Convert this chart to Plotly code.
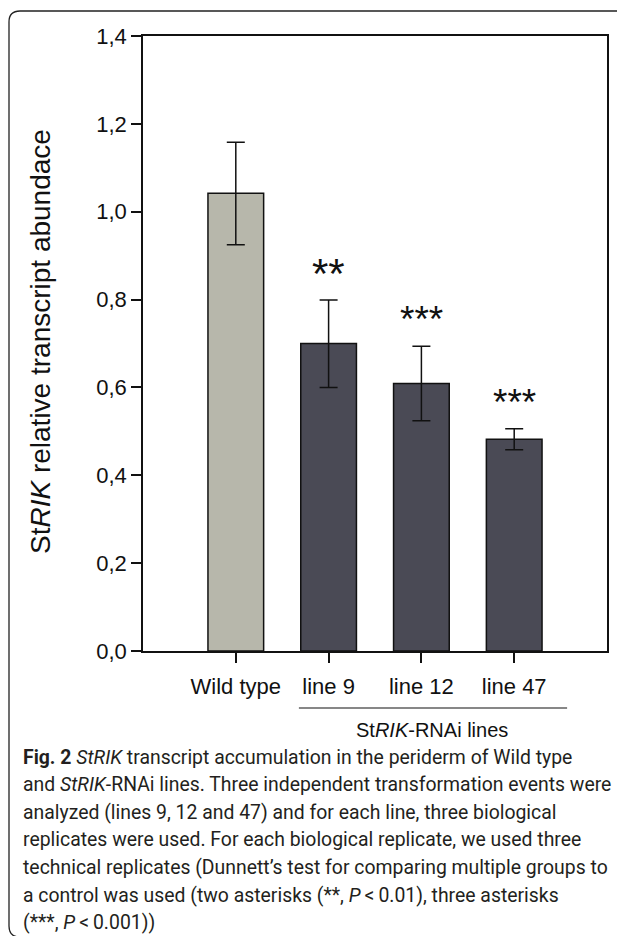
import plotly.graph_objects as go

# ---------------- data ----------------
categories = ["Wild type", "line 9", "line 12", "line 47"]
means = [1.042, 0.700, 0.609, 0.482]
err_plus = [0.116, 0.099, 0.085, 0.024]
err_minus = [0.117, 0.100, 0.085, 0.024]
sig_labels = ["", "**", "***", "***"]
y_tick_vals = [0.0, 0.2, 0.4, 0.6, 0.8, 1.0, 1.2, 1.4]
group_label = "St<i>RIK</i>-RNAi lines"
y_title = "St<i>RIK</i> relative transcript abundace"
caption_lines = [
    "<b>Fig. 2</b> <i>StRIK</i> transcript accumulation in the periderm of Wild type",
    "and <i>StRIK</i>-RNAi lines. Three independent transformation events were",
    "analyzed (lines 9, 12 and 47) and for each line, three biological",
    "replicates were used. For each biological replicate, we used three",
    "technical replicates (Dunnett\u2019s test for comparing multiple groups to",
    "a control was used (two asterisks (**, <i>P</i>\u2009&lt;\u20090.01), three asterisks",
    "(***, <i>P</i>\u2009&lt;\u20090.001))",
]

# ---------------- styles ----------------
PAGE_OFF = 8            # browser default body margin
W, H = 625 - PAGE_OFF, 936 - PAGE_OFF
ML, MR, MT, MB = 143 - PAGE_OFF, 18, 36 - PAGE_OFF, 285
PW, PH = W - ML - MR, H - MT - MB
PLOT_LEFT, PLOT_BOTTOM = 143, 651   # page pixels
wt_color = "#b7b7ab"
ko_color = "#4a4a55"
bar_colors = [wt_color] + [ko_color] * (len(categories) - 1)
sig_sizes = [0, 42, 37, 37]
axis_font = "Liberation Sans, Arial, sans-serif"
cap_font = "Roboto, Open Sans, sans-serif"


def px_x(p):
    return (p - PLOT_LEFT) / PW


def px_y(p):
    return (PLOT_BOTTOM - p) / PH


fig = go.Figure()
fig.add_trace(go.Bar(
    x=categories, y=means, width=0.6,
    marker=dict(color=bar_colors, line=dict(color="#111111", width=1.5)),
    error_y=dict(type="data", symmetric=False, array=err_plus, arrayminus=err_minus,
                 color="#111111", thickness=1.5, width=9),
    showlegend=False, hoverinfo="skip",
))

annotations = []
for c, m, e, s, fs in zip(categories, means, err_plus, sig_labels, sig_sizes):
    if s:
        annotations.append(dict(x=c, y=m + e + 0.06, xref="x", yref="y", text=s,
                                showarrow=False, yanchor="middle",
                                font=dict(family=axis_font, size=fs, color="#111111")))

# group label under the knock-down lines
annotations.append(dict(x=2.11, y=px_y(730), xref="x", yref="paper", text=group_label,
                        showarrow=False, yanchor="middle",
                        font=dict(family=axis_font, size=20, color="#111111")))
# y-axis title
annotations.append(dict(x=px_x(40), y=px_y(342), xref="paper", yref="paper", text=y_title,
                        textangle=-90, showarrow=False, xanchor="center", yanchor="middle",
                        font=dict(family=axis_font, size=28, color="#111111")))
# caption
for i, line in enumerate(caption_lines):
    annotations.append(dict(x=px_x(21), y=px_y(757 + 27.6 * i), xref="paper", yref="paper",
                            text=line, showarrow=False, xanchor="left", yanchor="middle",
                            align="left",
                            font=dict(family=cap_font, size=19.4, color="#231f20")))

shapes = [
    # bracket line under knock-down labels
    dict(type="line", xref="x", yref="paper", x0=0.68, x1=3.57,
         y0=px_y(708), y1=px_y(708), line=dict(color="#111111", width=1.2)),
    # rounded outer frame
    dict(type="path", xref="paper", yref="paper",
         path=(f"M {px_x(640)},{px_y(11)} L {px_x(20)},{px_y(11)} "
               f"Q {px_x(9)},{px_y(11)} {px_x(9)},{px_y(22)} "
               f"L {px_x(9)},{px_y(926)} Q {px_x(9)},{px_y(937)} {px_x(20)},{px_y(937)} "
               f"L {px_x(640)},{px_y(937)}"),
         line=dict(color="#222222", width=1.3)),
]

fig.update_layout(
    width=W, height=H,
    margin=dict(l=ML, r=MR, t=MT, b=MB),
    paper_bgcolor="white", plot_bgcolor="white",
    separators=", ",
    annotations=annotations, shapes=shapes,
    font=dict(family=axis_font, color="#111111"),
)
fig.update_xaxes(
    range=[-1, 4], showline=True, mirror=True, linecolor="#111111", linewidth=1.5,
    ticks="outside", ticklen=10, tickwidth=1.5, tickcolor="#111111",
    tickfont=dict(family=axis_font, size=22, color="#111111"), showgrid=False,
    zeroline=False, ticklabelstandoff=5,
)
fig.update_yaxes(
    range=[0, 1.4], tickvals=y_tick_vals, tickformat=".1f",
    showline=True, mirror=True, linecolor="#111111", linewidth=1.5,
    ticks="outside", ticklen=10, tickwidth=1.5, tickcolor="#111111",
    tickfont=dict(family=axis_font, size=22, color="#111111"), showgrid=False,
    zeroline=False,
)

fig.write_html("out.html")
